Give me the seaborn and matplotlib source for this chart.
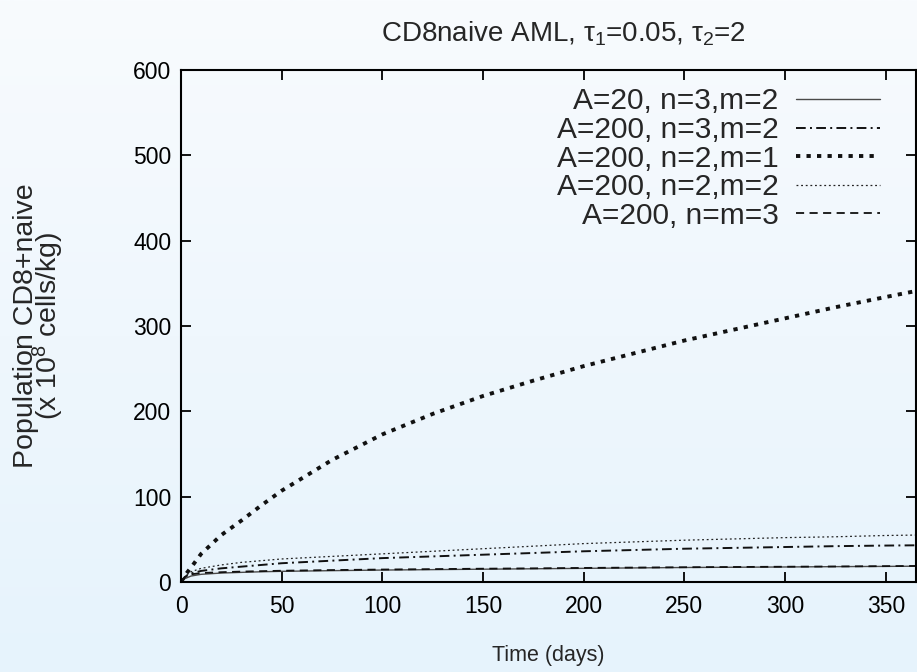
import numpy as np
import pandas as pd
import matplotlib
matplotlib.use("Agg")
import matplotlib.pyplot as plt
import seaborn as sns
from matplotlib.lines import Line2D
from matplotlib.colors import LinearSegmentedColormap

# ---- data ----
days = [0, 2, 5, 10, 20, 30, 40, 50, 75, 100, 125, 150, 175, 200, 225, 250, 275, 300, 325, 350, 365]

a20_n3_m2 = [0, 4, 7, 9, 10.5, 11.3, 12, 12.5, 13.3, 14, 14.5, 15, 15.5, 16, 16.5, 17, 17.3, 17.6, 18, 18.3, 18.5]
a200_n3_m2 = [0, 6, 10, 13, 16, 18, 20, 22, 25, 28, 30, 32, 34, 36, 37.5, 39, 40, 41, 42, 42.7, 43]
a200_n2_m1 = [0, 8, 17, 33, 55, 72, 90, 107, 143, 173, 197, 218, 236, 253, 268, 283, 296, 309, 322, 334, 341]
a200_n2_m2 = [0, 7, 12, 16, 20, 23, 25, 27, 30, 33, 36, 39, 42, 45, 47, 49, 50.5, 52, 53, 54.5, 55]
a200_n3_m3 = [0, 6, 9, 10.5, 11.5, 12.2, 12.7, 13.2, 14, 14.6, 15.1, 15.6, 16, 16.5, 16.9, 17.3, 17.6, 17.9, 18.2, 18.6, 18.8]

labels = ["A=20, n=3,m=2", "A=200, n=3,m=2", "A=200, n=2,m=1", "A=200, n=2,m=2", "A=200, n=m=3"]
series = [a20_n3_m2, a200_n3_m2, a200_n2_m1, a200_n2_m2, a200_n3_m3]

x_ticks = [0, 50, 100, 150, 200, 250, 300, 350]
y_ticks = [0, 100, 200, 300, 400, 500, 600]

styles = [
    dict(color="#4a4a4a", lw=1.0, dashes=None),
    dict(color="#111111", lw=1.4, dashes=(5, 2.2, 1, 2.2)),
    dict(color="#111111", lw=2.8, dashes=(1.1, 1.6)),
    dict(color="#222222", lw=0.9, dashes=(1.5, 2.2)),
    dict(color="#111111", lw=1.3, dashes=(4.5, 3)),
]

FS_TICK = 16.5
FS_XLAB = 15.5
FS_YLAB = 20.5
FS_LEG = 21.5
FS_TITLE = 20

sns.set_theme(style="ticks")
plt.rcParams["font.family"] = ["Liberation Sans", "DejaVu Sans"]
plt.rcParams["mathtext.fontset"] = "custom"
plt.rcParams["mathtext.rm"] = "Liberation Sans"
plt.rcParams["mathtext.it"] = "Liberation Sans"

fig = plt.figure(figsize=(9.17, 6.72), dpi=100)

# background gradient
bg = fig.add_axes([0, 0, 1, 1], zorder=-10)
grad = np.linspace(0, 1, 256).reshape(-1, 1)
cmap = LinearSegmentedColormap.from_list("bg", ["#f8fbfe", "#e6f3fc"])
bg.imshow(grad, aspect="auto", cmap=cmap, extent=[0, 1, 0, 1], origin="upper")
bg.axis("off")

ax = fig.add_axes([181 / 917, 1 - 582 / 672, (916 - 181) / 917, (582 - 70) / 672])
ax.set_facecolor("none")

handles = []
for lab, vals, st in zip(labels, series, styles):
    df = pd.DataFrame({"t": days, "v": vals})
    sns.lineplot(data=df, x="t", y="v", ax=ax, color=st["color"], linewidth=st["lw"])
    ln = ax.lines[-1]
    if st["dashes"] is not None:
        ln.set_dashes(st["dashes"])
    h = Line2D([], [], color=st["color"], linewidth=st["lw"])
    if st["dashes"] is not None:
        h.set_dashes(st["dashes"])
    handles.append(h)

ax.set_xlim(0, 365)
ax.set_ylim(0, 600)
ax.set_xticks(x_ticks)
ax.set_yticks(y_ticks)
ax.tick_params(direction="in", length=7, width=1.3, top=True, right=True,
               labelsize=FS_TICK, colors="black")
ax.tick_params(axis="x", pad=9.5)
ax.tick_params(axis="y", pad=7)
for s in ax.spines.values():
    s.set_linewidth(1.5)
    s.set_color("black")

ax.set_xlabel("Time (days)", fontsize=FS_XLAB, labelpad=19)
ax.set_ylabel("Population CD8+naive\n(x 10$^8$ cells/kg)", fontsize=FS_YLAB,
              linespacing=0.68)
ax.yaxis.set_label_coords((66 - 181) / 735, 0.5)
ax.set_title(r"CD8naive AML, $\tau_1$=0.05, $\tau_2$=2", fontsize=FS_TITLE, pad=20.5, x=0.52)

leg = ax.legend(handles, labels, loc="upper right", bbox_to_anchor=(0.951, 0.966),
                frameon=False, markerfirst=False, fontsize=FS_LEG, handlelength=2.8,
                labelspacing=0.02, handletextpad=0.6, borderaxespad=0, borderpad=0)
for t in leg.get_texts():
    t.set_ha("right")

fig.savefig("out.png", dpi=100)
